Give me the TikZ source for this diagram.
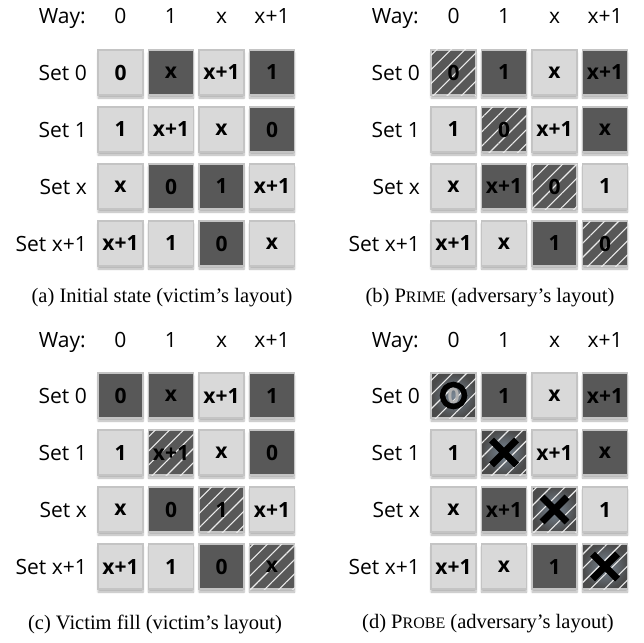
\documentclass[tikz,border=0pt]{standalone}
\usepackage{fontspec}
\setmainfont{Liberation Serif}
\setsansfont{Open Sans}
\usetikzlibrary{positioning, calc, patterns.meta, shadows.blur}

\definecolor{cellgray}{RGB}{217, 217, 217}
\definecolor{celldark}{RGB}{88, 88, 88}
\definecolor{cellrim}{RGB}{196, 196, 196}
\definecolor{hatchwhite}{RGB}{236, 236, 236}
\definecolor{probeblue}{RGB}{120, 134, 148}

\tikzset{
  lbl/.style={font=\sffamily\fontsize{21}{21}\selectfont, inner sep=0pt},
  captext/.style={font=\rmfamily\fontsize{20.5}{21}\selectfont, inner sep=0pt},
  cell/.style={minimum size=45pt, inner sep=0pt, draw=cellrim, line width=1.3pt,
    font=\sffamily\bfseries\fontsize{21}{21}\selectfont,
    blur shadow={shadow xshift=0pt, shadow yshift=-3pt, shadow blur steps=6, shadow opacity=30}},
  lt/.style={cell, fill=cellgray},
  dk/.style={cell, fill=celldark},
  ht/.style={dk, postaction={pattern={Lines[angle=45, distance=10pt, line width=1.1pt]}, pattern color=hatchwhite}},
  pb/.style={ht, inner color=probeblue, outer color=celldark!85!black},
  pbo/.style={pb, text=black!30},
  look/.style={#1},
  cross/.style={line width=7pt, black},
  ring/.style={line width=5.5pt, black}
}

% fake small caps for the captions
\newcommand{\capsc}[2]{#1{\fontsize{16}{16}\selectfont #2}}

% column heads of one panel
\newcommand{\panelhead}[1]{%
  \node[lbl, anchor=base east] (#1-way) at (86,24) {Way:};
  \foreach \w [count=\c from 0] in {0,1,x,x+1}
    \node[lbl, anchor=base] (#1-way-\c) at (120.5+50.5*\c,24) {\w};
}

% one set: label and four ways
\newcommand{\cellrow}[4]{%
  \node[lbl, anchor=east] (#1-set-#2) at (87,72.5+57*#2) {#3};
  \foreach \kind/\txt [count=\c from 0] in {#4}
    \node[look/.expanded=\kind] (#1-#2-\c) at (120.5+50.5*\c,72.5+57*#2) {\txt};
}

\begin{document}
\begin{tikzpicture}[x=1pt, y=-1pt]
  \useasboundingbox (0,0) rectangle (644,642);

  % (a) initial state
  \panelhead{a}
  \cellrow{a}{0}{Set 0}{lt/0, dk/x, lt/x+1, dk/1}
  \cellrow{a}{1}{Set 1}{lt/1, lt/x+1, lt/x, dk/0}
  \cellrow{a}{2}{Set x}{lt/x, dk/0, dk/1, lt/x+1}
  \cellrow{a}{3}{Set x+1}{lt/x+1, lt/1, dk/0, lt/x}
  \node[captext] (a-cap) at (162,298) {(a) Initial state (victim's layout)};

  % (b) prime
  \begin{scope}[shift={(333,0)}]
    \panelhead{b}
    \cellrow{b}{0}{Set 0}{ht/0, dk/1, lt/x, dk/x+1}
    \cellrow{b}{1}{Set 1}{lt/1, ht/0, lt/x+1, dk/x}
    \cellrow{b}{2}{Set x}{lt/x, dk/x+1, ht/0, lt/1}
    \cellrow{b}{3}{Set x+1}{lt/x+1, lt/x, dk/1, ht/0}
    \node[captext] (b-cap) at (157,298) {(b) \capsc{P}{RIME} (adversary's layout)};
  \end{scope}

  % (c) victim fill
  \begin{scope}[shift={(0,323)}]
    \panelhead{c}
    \cellrow{c}{0}{Set 0}{dk/0, dk/x, lt/x+1, dk/1}
    \cellrow{c}{1}{Set 1}{lt/1, ht/x+1, lt/x, dk/0}
    \cellrow{c}{2}{Set x}{lt/x, dk/0, ht/1, lt/x+1}
    \cellrow{c}{3}{Set x+1}{lt/x+1, lt/1, dk/0, ht/x}
    \node[captext] (c-cap) at (155,301) {(c) Victim fill (victim's layout)};
  \end{scope}

  % (d) probe
  \begin{scope}[shift={(333,323)}]
    \panelhead{d}
    \cellrow{d}{0}{Set 0}{pbo/0, dk/1, lt/x, dk/x+1}
    \cellrow{d}{1}{Set 1}{lt/1, pb/{}, lt/x+1, dk/x}
    \cellrow{d}{2}{Set x}{lt/x, dk/x+1, pb/{}, lt/1}
    \cellrow{d}{3}{Set x+1}{lt/x+1, lt/x, dk/1, pb/{}}
    \node[captext] (d-cap) at (155,301) {(d) \capsc{P}{ROBE} (adversary's layout)};
  \end{scope}

  % probe results
  \draw[ring] (d-0-0) circle (11);
  \foreach \n in {d-1-1, d-2-2, d-3-3}
    \draw[cross] (\n.center) +(-12.5,-12.5) -- +(12.5,12.5) +(-12.5,12.5) -- +(12.5,-12.5);
\end{tikzpicture}
\end{document}
